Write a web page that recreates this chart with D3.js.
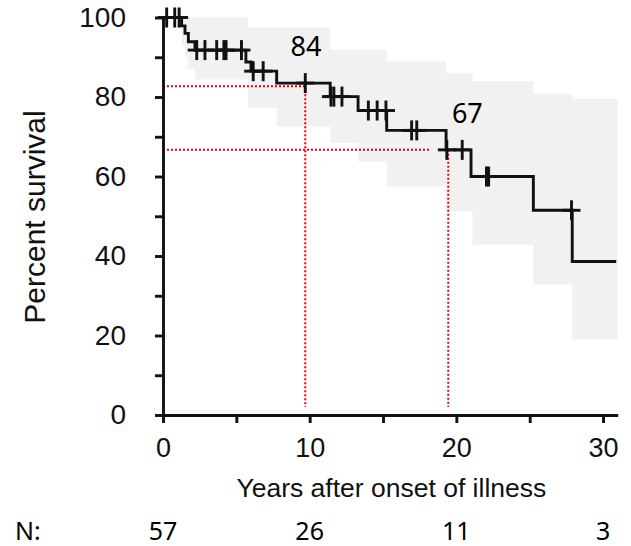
<!DOCTYPE html>
<html>
<head>
<meta charset="utf-8">
<script src="https://cdn.jsdelivr.net/npm/d3@7"></script>
<style>
  html, body { margin: 0; padding: 0; background: #fff; }
  svg { display: block; }
</style>
</head>
<body>
<svg id="chart" width="631" height="546"></svg>
<script>
// ---- data ----
const stepTimes = [0, 1.27, 1.5, 1.73, 2.18, 5.65, 6.0, 7.75, 11.4, 13.3, 15.25, 19.3, 21.0, 25.25, 27.9];
const survival  = [100, 97.9, 96.0, 93.9, 91.8, 88.8, 86.5, 83.5, 80.1, 76.6, 71.6, 66.7, 60.0, 51.5, 38.6];
const curveEnd = 30.9;

const censorTimes = [0.25, 0.8, 1.1, 2.3, 2.86, 3.66, 4.15, 4.3, 5.35, 6.15, 6.83, 9.7,
                     11.45, 11.65, 12.2, 14.0, 14.6, 15.2, 16.95, 17.3, 19.35, 20.4, 22.05, 22.2, 27.85];

const bandTimes = [1.27, 1.5, 1.73, 2.18, 5.8, 7.75, 11.4, 13.3, 15.25, 19.3, 21.1, 25.25, 27.9, 31.0];
const bandUpper = [100, 100, 100, 100, 97.5, 97.5, 91.9, 91.9, 88.9, 86, 84, 80.8, 79.5, 79.5];
const bandLower = [93, 90, 87, 84.4, 77.3, 72.6, 68.4, 63.8, 57.5, 51.2, 42.8, 32.8, 19, 19];

const refTimes  = [9.7, 19.45];
const refValues = [82.7, 66.7];
const refHEnd   = [9.7, 18.2];
const refLabels = ["84", "67"];
const refLabelTimes  = [9.75, 20.75];
const refLabelValues = [90.3, 73.5];

const yTicks = [0, 10, 20, 30, 40, 50, 60, 70, 80, 90, 100];
const xTicks = [0, 5, 10, 15, 20, 25, 30];
const nTimes = [0, 10, 20, 30];
const nValues = ["57", "26", "11", "3"];

// ---- scales ----
const svg = d3.select("#chart");
const x = d3.scaleLinear().domain([0, 31]).range([163, 617.7]);
const y = d3.scaleLinear().domain([0, 100]).range([415, 17.5]);

const helv = "'Liberation Sans', Arial, Helvetica, sans-serif";
const cal = "'Noto Sans', 'Open Sans', sans-serif";
const SW = 2.9;

// ---- confidence band ----
const bandData = bandTimes.map((t, i) => ({t, u: bandUpper[i], l: bandLower[i]}));
svg.append("path")
  .datum(bandData)
  .attr("d", d3.area().curve(d3.curveStepAfter)
      .x(d => x(d.t)).y0(d => y(d.l)).y1(d => y(d.u)))
  .attr("fill", "#f1f1f1");

// ---- red reference lines ----
refTimes.forEach((t, i) => {
  svg.append("line")
    .attr("x1", x(0)).attr("x2", x(refHEnd[i]))
    .attr("y1", y(refValues[i])).attr("y2", y(refValues[i]))
    .attr("stroke", "#e8000b").attr("stroke-width", 2).attr("stroke-dasharray", "2,2");
  svg.append("line")
    .attr("x1", x(t)).attr("x2", x(t))
    .attr("y1", y(refValues[i])).attr("y2", y(2))
    .attr("stroke", "#e8000b").attr("stroke-width", 2).attr("stroke-dasharray", "2,2");
  svg.append("text")
    .attr("x", x(refLabelTimes[i])).attr("y", y(refLabelValues[i]))
    .attr("text-anchor", "middle")
    .attr("font-family", cal).attr("font-size", 27).attr("fill", "#000")
    .text(refLabels[i]);
});

// ---- KM curve ----
const kmData = stepTimes.map((t, i) => ({t, s: survival[i]}));
kmData.push({t: curveEnd, s: survival[survival.length - 1]});
svg.append("path")
  .datum(kmData)
  .attr("d", d3.line().curve(d3.curveStepAfter).x(d => x(d.t)).y(d => y(d.s)))
  .attr("fill", "none").attr("stroke", "#111").attr("stroke-width", SW);

function survAt(t) {
  let s = survival[0];
  for (let i = 0; i < stepTimes.length; i++) if (stepTimes[i] <= t) s = survival[i];
  return s;
}
const cg = svg.append("g").attr("stroke", "#111").attr("stroke-width", SW);
censorTimes.forEach(t => {
  const cx = x(t), cy = y(survAt(t));
  cg.append("line").attr("x1", cx).attr("x2", cx).attr("y1", cy - 10).attr("y2", cy + 10);
  cg.append("line").attr("x1", cx - 9).attr("x2", cx + 9).attr("y1", cy).attr("y2", cy);
});

// ---- axes ----
const yAxis = svg.append("g").attr("transform", `translate(${x(0)},0)`)
  .call(d3.axisLeft(y).tickValues(yTicks).tickSize(8).tickSizeOuter(0).tickPadding(29)
    .tickFormat(d => d % 20 === 0 ? d : ""));
const xAxis = svg.append("g").attr("transform", `translate(0,${y(0)})`)
  .call(d3.axisBottom(x).tickValues(xTicks).tickSize(8).tickSizeOuter(0).tickPadding(15)
    .tickFormat(d => d % 10 === 0 ? d : ""));
[yAxis, xAxis].forEach(g => {
  g.selectAll("path, line").attr("stroke", "#111").attr("stroke-width", SW);
  g.selectAll("text").attr("font-family", helv).attr("fill", "#111");
});
yAxis.selectAll("text").attr("font-size", 28);
xAxis.selectAll("text").attr("font-size", 27);

// axis titles
svg.append("text")
  .attr("transform", `translate(45,217) rotate(-90)`)
  .attr("text-anchor", "middle")
  .attr("font-family", helv).attr("font-size", 30).attr("fill", "#111")
  .text("Percent survival");
svg.append("text")
  .attr("x", (x(0) + x(31)) / 2 + 1).attr("y", 497)
  .attr("text-anchor", "middle")
  .attr("font-family", helv).attr("font-size", 26.5).attr("fill", "#111")
  .text("Years after onset of illness");

// ---- N row ----
svg.append("text")
  .attr("x", 15).attr("y", 540)
  .attr("font-family", cal).attr("font-size", 25).attr("fill", "#000")
  .text("N:");
nTimes.forEach((t, i) => {
  svg.append("text")
    .attr("x", x(t)).attr("y", 540)
    .attr("text-anchor", "middle")
    .attr("font-family", cal).attr("font-size", 25).attr("fill", "#000")
    .text(nValues[i]);
});
</script>
</body>
</html>
